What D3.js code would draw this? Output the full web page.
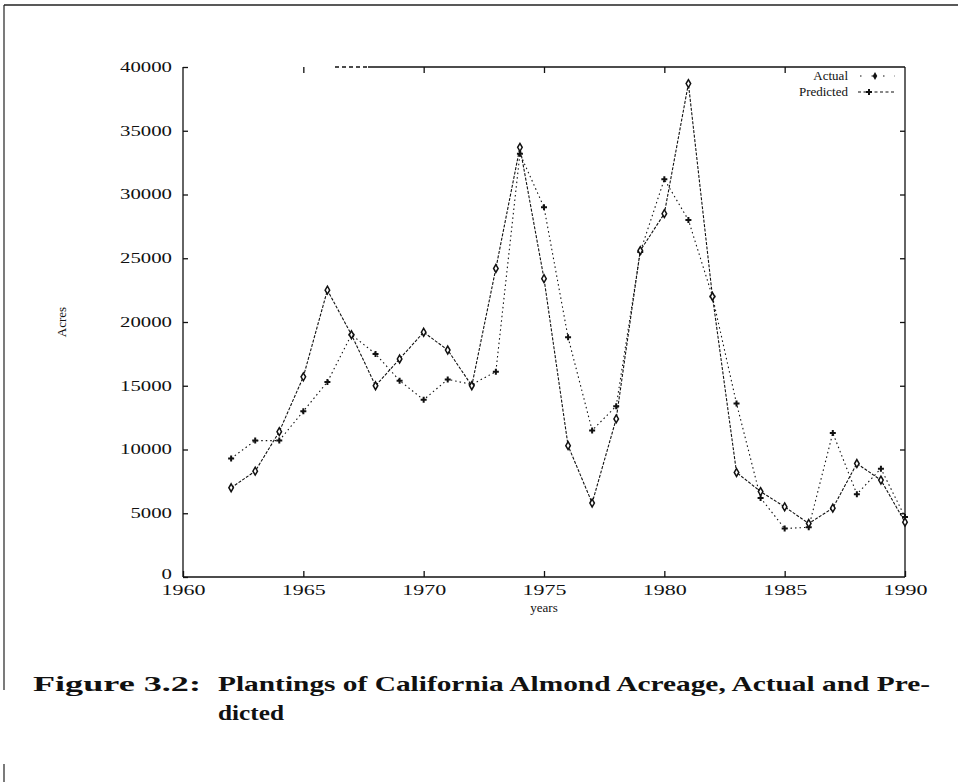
<!DOCTYPE html>
<html>
<head>
<meta charset="utf-8">
<script src="https://cdn.jsdelivr.net/npm/d3@7"></script>
<style>
  body { margin: 0; background: #fff; }
  text { font-family: "Liberation Serif", "DejaVu Serif", serif; fill: #111; }
</style>
</head>
<body>
<div id="chart"></div>
<script>
// years 1962..1990
var years = [1962, 1963, 1964, 1965, 1966, 1967, 1968, 1969, 1970, 1971, 1972, 1973, 1974, 1975, 1976,
             1977, 1978, 1979, 1980, 1981, 1982, 1983, 1984, 1985, 1986, 1987, 1988, 1989, 1990];
var actual = [7000, 8300, 11400, 15700, 22500, 19000, 15000, 17100, 19200, 17800, 15000, 24200, 33700, 23400, 10300,
              5800, 12400, 25600, 28500, 38700, 22000, 8200, 6700, 5500, 4200, 5400, 8900, 7600, 4300];
var predicted = [9300, 10700, 10700, 13000, 15300, 19000, 17500, 15400, 13900, 15500, 15100, 16100, 33200, 29000, 18800,
                 11500, 13400, 25500, 31200, 28000, 22000, 13600, 6200, 3800, 3900, 11300, 6500, 8500, 4700];
var xTicks = [1960, 1965, 1970, 1975, 1980, 1985, 1990];
var yTicks = [0, 5000, 10000, 15000, 20000, 25000, 30000, 35000, 40000];

var width = 958, height = 782;
// plot box (note: "top" is reserved on window, so use pTop etc.)
var pLeft = 183, pRight = 905, pTop = 67, pBottom = 577;

var svg = d3.select("#chart").append("svg")
    .attr("width", width)
    .attr("height", height);

var x = d3.scaleLinear().domain([1960, 1990]).range([pLeft, pRight]);
var y = d3.scaleLinear().domain([0, 40000]).range([pBottom, pTop]);

// page frame bits from the scan
svg.append("line").attr("x1", 4).attr("x2", width).attr("y1", 5).attr("y2", 5)
    .attr("stroke", "#222").attr("stroke-width", 1.5);
svg.append("line").attr("x1", 4).attr("x2", 4).attr("y1", 5).attr("y2", 690)
    .attr("stroke", "#222").attr("stroke-width", 1.2);
svg.append("line").attr("x1", 4).attr("x2", 4).attr("y1", 764).attr("y2", 782)
    .attr("stroke", "#222").attr("stroke-width", 1.2);

// plot border (top edge partly lost in the scan)
var border = svg.append("g").attr("stroke", "#111").attr("fill", "none").attr("stroke-width", 1.3);
border.append("line").attr("x1", pLeft).attr("x2", pLeft).attr("y1", pTop).attr("y2", pBottom);
border.append("line").attr("x1", pLeft).attr("x2", pRight).attr("y1", pBottom).attr("y2", pBottom);
border.append("line").attr("x1", pRight).attr("x2", pRight).attr("y1", pTop).attr("y2", pBottom);
border.append("line").attr("x1", 368).attr("x2", pRight).attr("y1", pTop).attr("y2", pTop);
border.append("line").attr("x1", 335).attr("x2", 368).attr("y1", pTop).attr("y2", pTop)
    .attr("stroke-dasharray", "4,3");

// axes
var yAxis = d3.axisLeft(y).tickValues(yTicks).tickSize(-5).tickPadding(11).tickFormat(d3.format("d"));
var gy = svg.append("g").attr("transform", "translate(" + pLeft + ",0)").call(yAxis);
var gyr = svg.append("g").attr("transform", "translate(" + pRight + ",0)")
    .call(d3.axisRight(y).tickValues(yTicks.slice(1, -1)).tickSize(-5).tickFormat(""));
var xAxis = d3.axisBottom(x).tickValues(xTicks).tickSize(-6).tickPadding(8).tickFormat(d3.format("d"));
var gx = svg.append("g").attr("transform", "translate(0," + pBottom + ")").call(xAxis);
var gxt = svg.append("g").attr("transform", "translate(0," + pTop + ")")
    .call(d3.axisTop(x).tickValues(xTicks.slice(1, -1)).tickSize(-6).tickFormat(""));

[gy, gyr, gx, gxt].forEach(function (g) {
    g.select(".domain").remove();
    g.selectAll(".tick line").attr("stroke", "#111").attr("stroke-width", 1.3);
});
gy.selectAll(".tick text")
    .style("font-size", "14px")
    .attr("textLength", function (d) { return String(d).length * 10.4; })
    .attr("lengthAdjust", "spacingAndGlyphs")
    .attr("y", function (d) { return d === 0 ? -3 : 0; });
gx.selectAll(".tick text")
    .style("font-size", "14px")
    .attr("textLength", 44)
    .attr("lengthAdjust", "spacingAndGlyphs");

svg.append("text")
    .attr("transform", "translate(66,322) rotate(-90)")
    .attr("text-anchor", "middle")
    .style("font-size", "13px")
    .text("Acres");
svg.append("text")
    .attr("x", 544).attr("y", 612)
    .attr("text-anchor", "middle")
    .style("font-size", "13px")
    .text("years");

// series
var actualData = years.map(function (d, i) { return [d, actual[i]]; });
var predictedData = years.map(function (d, i) { return [d, predicted[i]]; });

var line = d3.line()
    .x(function (d) { return x(d[0]); })
    .y(function (d) { return y(d[1]); });

svg.append("path")
    .datum(predictedData)
    .attr("d", line)
    .attr("fill", "none")
    .attr("stroke", "#111")
    .attr("stroke-width", 1.1)
    .attr("stroke-dasharray", "1.5,3");

svg.append("path")
    .datum(actualData)
    .attr("d", line)
    .attr("fill", "none")
    .attr("stroke", "#111")
    .attr("stroke-width", 1.1)
    .attr("stroke-dasharray", "3,1.5");

var diamond = d3.symbol().type(d3.symbolDiamond).size(18);
var plus = d3.symbol().type(d3.symbolCross).size(20);

svg.selectAll(".pt-pred")
    .data(predictedData).enter().append("path")
    .attr("class", "pt-pred")
    .attr("d", plus)
    .attr("fill", "#111")
    .attr("transform", function (d) { return "translate(" + x(d[0]) + "," + y(d[1]) + ")"; });

svg.selectAll(".pt-act")
    .data(actualData).enter().append("path")
    .attr("class", "pt-act")
    .attr("d", diamond)
    .attr("fill", "#fff")
    .attr("stroke", "#111")
    .attr("stroke-width", 1.5)
    .attr("transform", function (d) { return "translate(" + x(d[0]) + "," + y(d[1]) + ")"; });

// legend
var legend = svg.append("g");
legend.append("text").attr("x", 848).attr("y", 80).attr("text-anchor", "end")
    .style("font-size", "13px").text("Actual");
legend.append("text").attr("x", 848).attr("y", 96).attr("text-anchor", "end")
    .style("font-size", "13px").text("Predicted");
legend.append("line").attr("x1", 860).attr("x2", 895).attr("y1", 76).attr("y2", 76)
    .attr("stroke", "#111").attr("stroke-width", 1.2).attr("stroke-dasharray", "1.5,10");
legend.append("path").attr("d", diamond).attr("fill", "#111")
    .attr("transform", "translate(875,76)");
legend.append("line").attr("x1", 858).attr("x2", 895).attr("y1", 92).attr("y2", 92)
    .attr("stroke", "#111").attr("stroke-width", 1.2).attr("stroke-dasharray", "3,2.5");
legend.append("path").attr("d", plus).attr("fill", "#111")
    .attr("transform", "translate(869,92)");

// caption
var cap = svg.append("g").style("font-weight", "bold").style("font-size", "21px");
cap.append("text").attr("x", 33).attr("y", 691)
    .attr("textLength", 168).attr("lengthAdjust", "spacingAndGlyphs")
    .text("Figure 3.2:");
cap.append("text").attr("x", 218).attr("y", 691)
    .attr("textLength", 712).attr("lengthAdjust", "spacingAndGlyphs")
    .text("Plantings of California Almond Acreage, Actual and Pre-");
cap.append("text").attr("x", 218).attr("y", 720)
    .attr("textLength", 66).attr("lengthAdjust", "spacingAndGlyphs")
    .text("dicted");
</script>
</body>
</html>
